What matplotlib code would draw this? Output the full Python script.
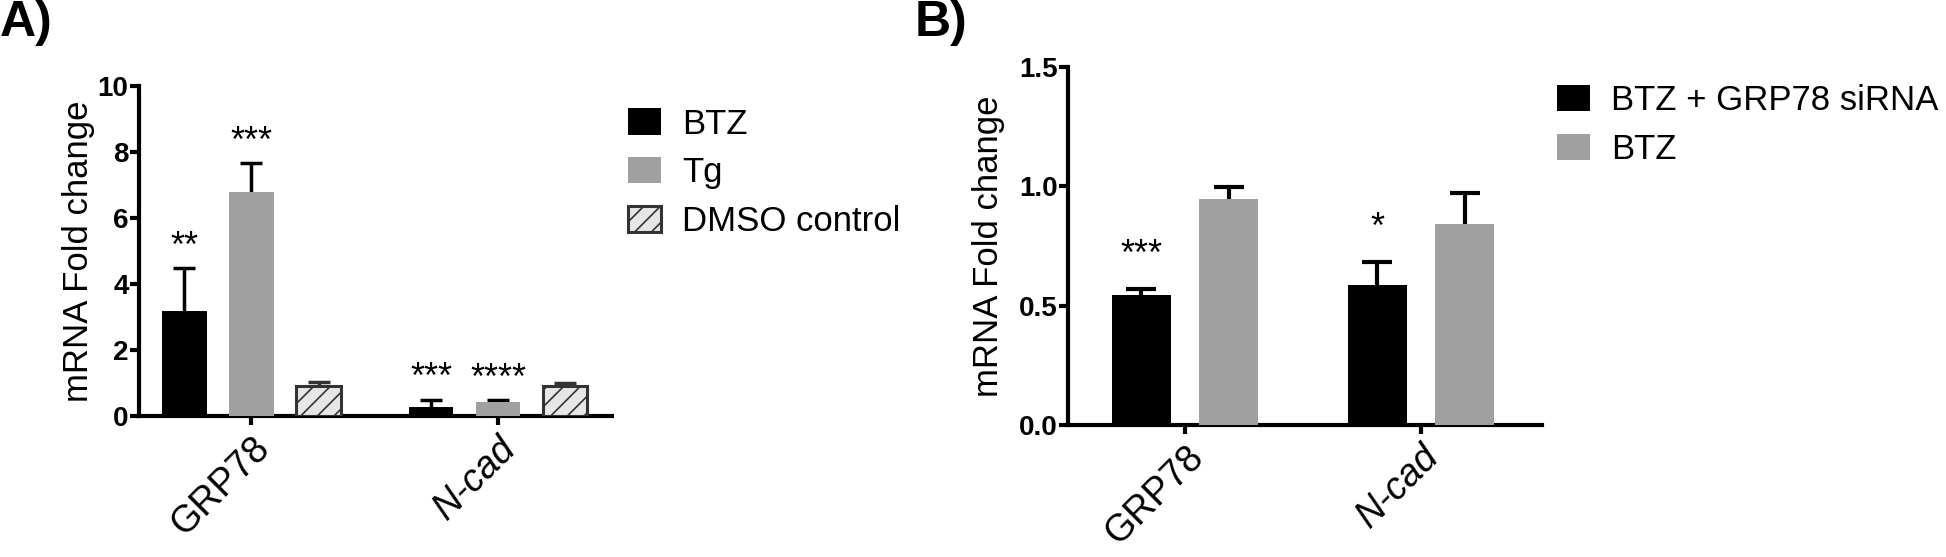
import numpy as np
import matplotlib
matplotlib.use("Agg")
import matplotlib.pyplot as plt

plt.rcParams['font.family'] = ['Liberation Sans', 'DejaVu Sans']
plt.rcParams['hatch.linewidth'] = 1.2

# Panel A data
genes = ['GRP78', 'N-cad']
a_series = ['BTZ', 'Tg', 'DMSO control']
a_mean = [[3.18, 0.26], [6.78, 0.41], [0.91, 0.92]]
a_err = [[1.30, 0.24], [0.88, 0.07], [0.11, 0.09]]
a_stars = [['**', '***'], ['***', '****'], ['', '']]
a_yticks = [0, 2, 4, 6, 8, 10]

# Panel B data
b_series = ['BTZ + GRP78 siRNA', 'BTZ']
b_mean = [[0.546, 0.585], [0.948, 0.842]]
b_err = [[0.025, 0.097], [0.050, 0.132]]
b_stars = [['***', '*'], ['', '']]
b_yticks = [0.0, 0.5, 1.0, 1.5]

GRAY = '#a0a0a0'
styles_a = [dict(color='black'),
            dict(color=GRAY),
            dict(color='#e6e6e6', edgecolor='#333333', hatch='//', linewidth=2.2)]
styles_b = [dict(color='black'), dict(color=GRAY)]

fig = plt.figure(figsize=(19.46, 5.57), dpi=100)
axA = fig.add_axes([0.0714, 0.2531, 0.2431, 0.5925])
axB = fig.add_axes([0.5488, 0.2370, 0.2436, 0.6427])


def style_axis(ax, yticks, fmt, labelpad):
    for s in ['top', 'right']:
        ax.spines[s].set_visible(False)
    for s in ['left', 'bottom']:
        ax.spines[s].set_linewidth(3.0)
    ax.set_ylim(yticks[0], yticks[-1])
    ax.set_yticks(yticks)
    ax.set_yticklabels([fmt % t for t in yticks], fontweight='bold', fontsize=20)
    ax.tick_params(axis='both', width=3.0, length=6.5, direction='out')
    ax.tick_params(axis='y', pad=1)
    ax.set_ylabel('mRNA Fold change', fontsize=25, labelpad=labelpad)
    ax.set_xticks(np.arange(len(genes)))
    labels = ax.set_xticklabels(genes, rotation=45, ha='right',
                                rotation_mode='anchor', fontsize=27)
    labels[1].set_style('italic')


# ---- Panel A
x = np.arange(len(genes))
offs = [-0.272, 0.0, 0.272]
for i in range(3):
    ax_x = x + offs[i]
    ecol = '#333333' if i == 2 else 'black'
    axA.errorbar(ax_x, a_mean[i], yerr=a_err[i], fmt='none', ecolor=ecol,
                 elinewidth=2.5, capsize=8, capthick=2.5, zorder=2)
    axA.bar(ax_x, a_mean[i], width=0.18, label=a_series[i], zorder=3, **styles_a[i])
    for j in range(len(genes)):
        if a_stars[i][j]:
            axA.annotate(a_stars[i][j], (ax_x[j], a_mean[i][j] + a_err[i][j]),
                         xytext=(0, 15), textcoords='offset points',
                         ha='center', va='center', fontsize=26)
axA.set_xlim(-0.456, 1.462)
style_axis(axA, a_yticks, '%d', 2)
axA.legend(loc='center left', bbox_to_anchor=(0.3227, 0.690),
           bbox_transform=fig.transFigure, frameon=False, fontsize=25,
           handlelength=0.95, handleheight=0.78, handletextpad=0.6,
           labelspacing=0.45, borderpad=0, borderaxespad=0)

# ---- Panel B
offs_b = [-0.186, 0.186]
for i in range(2):
    bx = x + offs_b[i]
    axB.errorbar(bx, b_mean[i], yerr=b_err[i], fmt='none', ecolor='black',
                 elinewidth=3, capsize=11, capthick=3, zorder=2)
    axB.bar(bx, b_mean[i], width=0.25, label=b_series[i], zorder=3, **styles_b[i])
    for j in range(len(genes)):
        if b_stars[i][j]:
            axB.annotate(b_stars[i][j], (bx[j], b_mean[i][j] + b_err[i][j]),
                         xytext=(0, 24), textcoords='offset points',
                         ha='center', va='center', fontsize=26)
axB.set_xlim(-0.496, 1.513)
style_axis(axB, b_yticks, '%.1f', 10)
axB.legend(loc='center left', bbox_to_anchor=(0.8001, 0.7756),
           bbox_transform=fig.transFigure, frameon=False, fontsize=25,
           handlelength=0.95, handleheight=0.78, handletextpad=0.6,
           labelspacing=0.45, borderpad=0, borderaxespad=0)

fig.text(0.0, 1.0, 'A)', fontsize=36, fontweight='bold', va='top', ha='left')
fig.text(0.470, 1.0, 'B)', fontsize=36, fontweight='bold', va='top', ha='left')

fig.savefig('out.png', dpi=100)
